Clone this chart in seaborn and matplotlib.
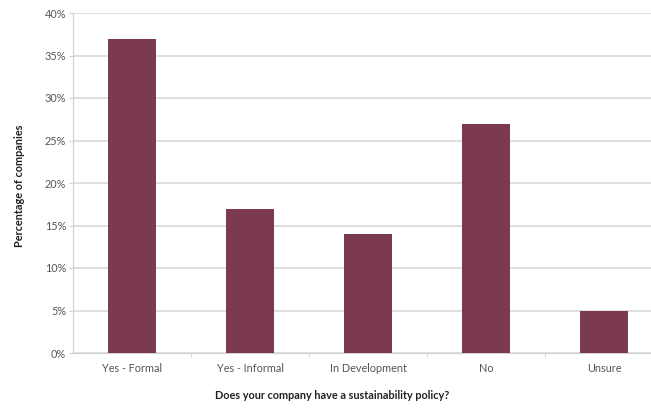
import matplotlib
matplotlib.use("Agg")
import matplotlib.pyplot as plt
import seaborn as sns
import pandas as pd
from matplotlib.ticker import PercentFormatter, FixedLocator

categories = ["Yes - Formal", "Yes - Informal", "In Development", "No", "Unsure"]
percentages = [37, 17, 14, 27, 5]
yticks = [0, 5, 10, 15, 20, 25, 30, 35, 40]

sns.set_style("white")
plt.rcParams['font.family'] = ['Lato', 'DejaVu Sans']

df = pd.DataFrame({"category": categories, "pct": percentages})

fig = plt.figure(figsize=(6.51, 4.09), dpi=100)
ax = fig.add_axes([73/651, 56/409, 590/651, 340/409])

sns.barplot(data=df, x="category", y="pct", color="#7B3A4F", saturation=1,
            width=0.41, ax=ax, zorder=3, linewidth=0)

ax.set_ylim(0, 40)
ax.set_xlim(-0.5, 4.5)
ax.set_yticks(yticks)
ax.yaxis.set_major_formatter(PercentFormatter(decimals=0))
ax.grid(axis="y", color="#d9d9d9", linewidth=1.2, zorder=0)
ax.set_axisbelow(True)

for s in ["top", "right"]:
    ax.spines[s].set_visible(False)
ax.spines["left"].set_color("#d0d0d0")
ax.spines["bottom"].set_color("#d0d0d0")

ax.tick_params(axis="y", labelsize=7.8, labelcolor="#555555", length=3,
               color="#d0d0d0", direction="out", left=True, pad=2)
ax.tick_params(axis="x", labelsize=7.8, labelcolor="#555555", length=0, pad=7)
ax.xaxis.set_minor_locator(FixedLocator([0.5, 1.5, 2.5, 3.5]))
ax.tick_params(axis="x", which="minor", length=3, color="#d0d0d0", direction="out", bottom=True)

ax.set_xlabel("Does your company have a sustainability policy?", fontsize=7.8,
              fontweight="bold", color="#222222")
ax.set_ylabel("Percentage of companies", fontsize=7.8, fontweight="bold",
              color="#222222")
ax.xaxis.set_label_coords((332 - 73) / 590, -(390 - 353) / 340)
ax.yaxis.set_label_coords(-(73 - 25) / 590, (353 - 186) / 340)

fig.savefig("out.png", dpi=100)
